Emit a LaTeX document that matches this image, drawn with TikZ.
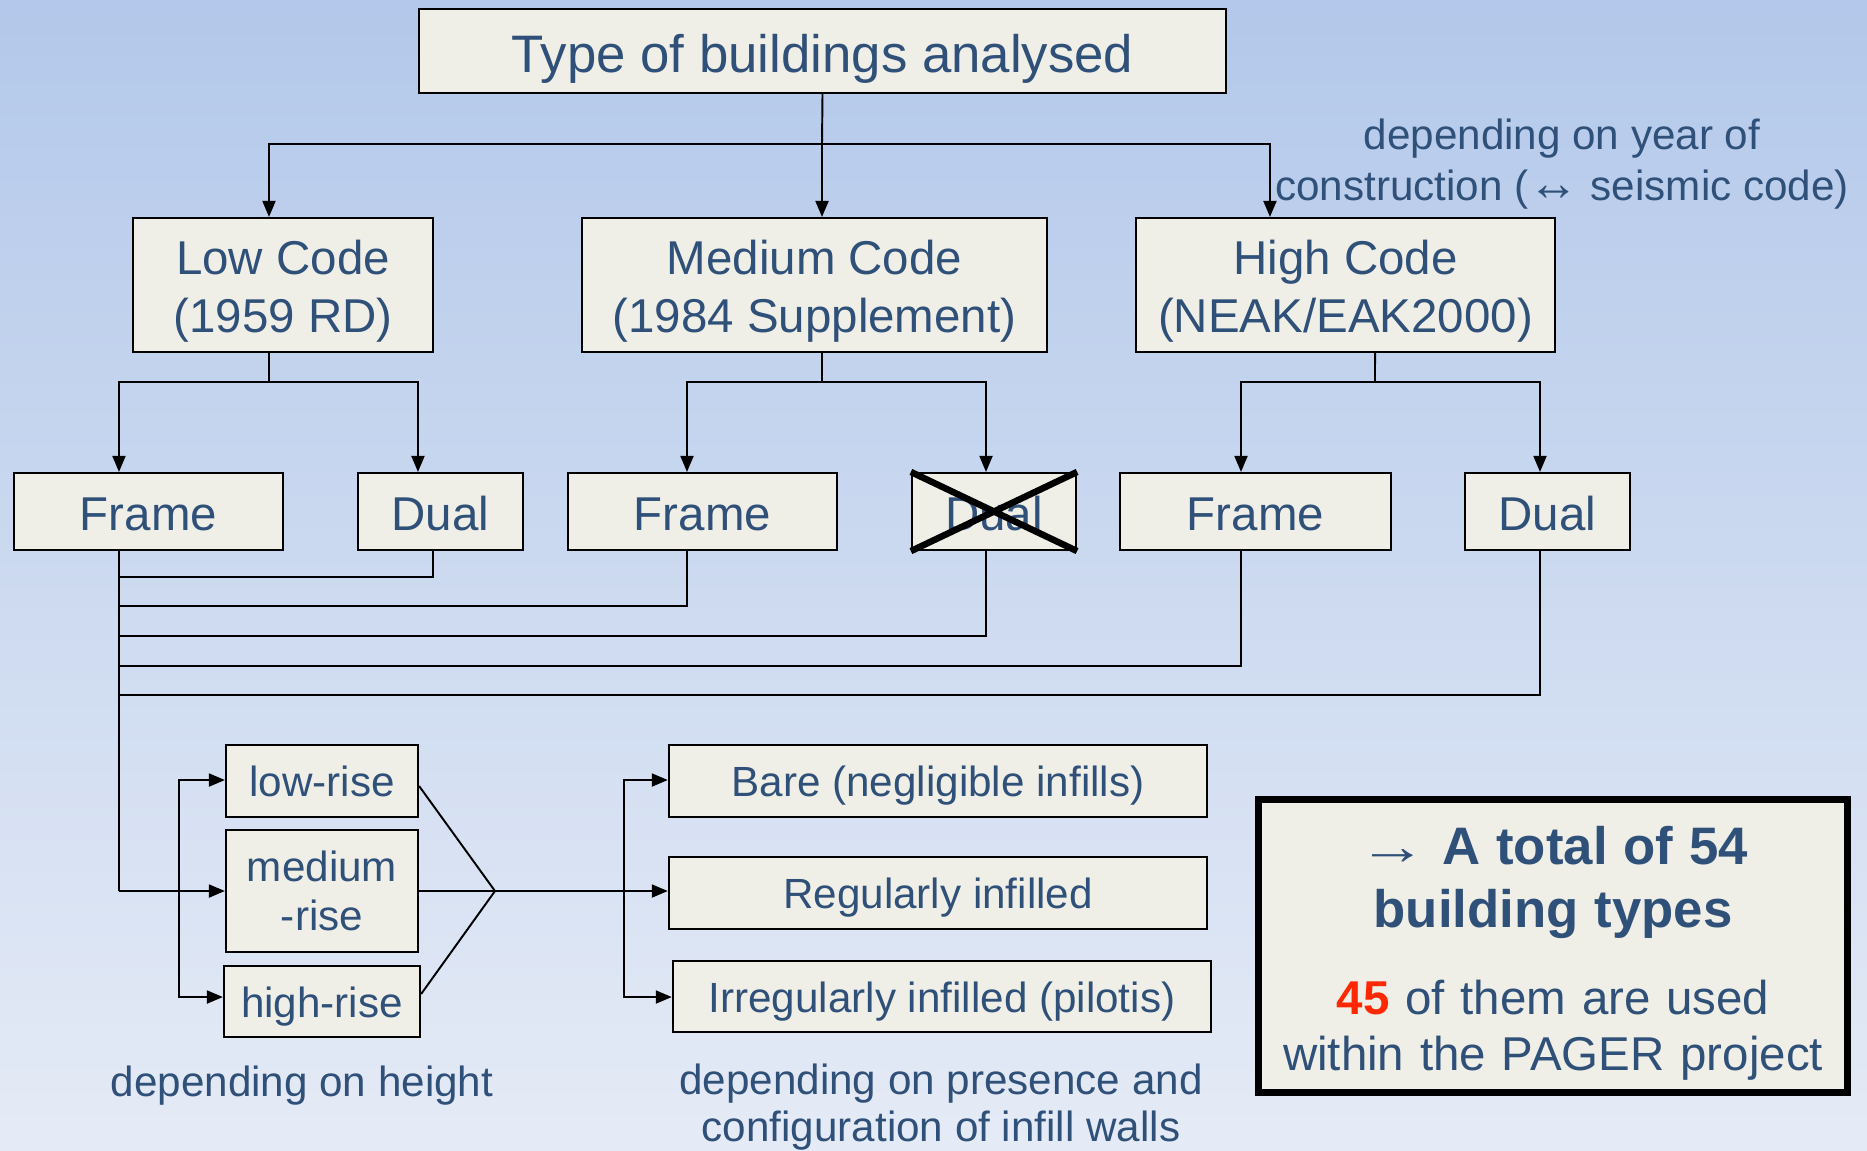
\documentclass[tikz,border=0pt]{standalone}
\usepackage{fontspec}
\usepackage{graphicx}
\setmainfont{Liberation Sans}
\usetikzlibrary{arrows.meta,calc}
\definecolor{txtblue}{RGB}{47,80,120}
\definecolor{boxfill}{RGB}{240,239,231}
\definecolor{bgtop}{RGB}{179,200,234}
\definecolor{bgbot}{RGB}{229,235,246}
\definecolor{numred}{RGB}{255,40,0}
\newcommand{\codetop}{\rule{0pt}{13.3pt}} % pushes the two code lines down

\begin{document}
\begin{tikzpicture}[x=0.01cm, y=-0.01cm,
  box/.style={draw=black, line width=0.6pt, fill=boxfill, text=txtblue, inner sep=0pt},
  codebox/.style={box, minimum height=1.34cm, align=center, font=\fontsize{13.5}{16.7}\selectfont},
  kindbox/.style={box, minimum height=0.77cm, text height=10.8pt, text depth=0pt, font=\fontsize{13.5}{16.5}\selectfont},
  smallbox/.style={box, minimum height=0.72cm, text height=9pt, text depth=0pt, font=\fontsize{12}{13.9}\selectfont},
  arr/.style={-{Triangle[length=0.16cm,width=0.13cm]}, line width=0.55pt},
  link/.style={line width=0.55pt},
  note/.style={text=txtblue, align=center, font=\fontsize{12}{14.5}\selectfont}]

% background
\useasboundingbox (0,0) rectangle (1867,1150);
\shade[top color=bgtop, bottom color=bgbot] (0,0) rectangle (1867,1150);

% top box
\node[box, minimum width=8.07cm, minimum height=0.84cm, text height=12pt, text depth=0pt,
      font=\fontsize{15}{18}\selectfont] (types) at (822.5,51) {Type of buildings analysed};

% seismic codes
\node[codebox, minimum width=3.00cm] (low)  at (283,285)    {\codetop Low Code\\(1959 RD)};
\node[codebox, minimum width=4.65cm] (med)  at (814.5,285)  {\codetop Medium Code\\(1984 Supplement)};
\node[codebox, minimum width=4.19cm] (high) at (1345.5,285) {\codetop High Code\\(NEAK/EAK2000)};

% structural systems
\node[kindbox, minimum width=2.69cm] (frameA) at (148.5,511.5)  {Frame};
\node[kindbox, minimum width=1.65cm] (dualA)  at (440.5,511.5)  {Dual};
\node[kindbox, minimum width=2.69cm] (frameB) at (702.5,511.5)  {Frame};
\node[kindbox, minimum width=1.64cm] (dualB)  at (994,511.5)    {Dual};
\node[kindbox, minimum width=2.71cm] (frameC) at (1255.5,511.5) {Frame};
\node[kindbox, minimum width=1.65cm] (dualC)  at (1547.5,511.5) {Dual};

% crossed out
\draw[line width=0.065cm] (dualB.north west) -- (dualB.south east)
                          (dualB.south west) -- (dualB.north east);

% height classes
\node[smallbox, minimum width=1.92cm] (lowR)  at (322,781) {low-rise};
\node[box, minimum width=1.92cm, minimum height=1.22cm, align=center,
      font=\fontsize{12}{13.9}\selectfont] (midR) at (322,891) {medium\\-rise};
\node[smallbox, minimum width=1.96cm, minimum height=0.71cm] (highR) at (322,1001.5) {high-rise};

% infill classes
\node[smallbox, minimum width=5.38cm] (bare) at (938,781) {Bare (negligible infills)};
\node[smallbox, minimum width=5.38cm] (reg)  at (938,893) {Regularly infilled};
\node[smallbox, minimum width=5.38cm, minimum height=0.71cm] (irr) at (942,996.5) {Irregularly infilled (pilotis)};

% result
\node[box, line width=0.07cm, minimum width=5.88cm, minimum height=2.92cm, text width=5.6cm, align=center,
      font=\fontsize{13.5}{16}\selectfont] (total) at (1553,946)
  {{\fontsize{15}{18}\selectfont\bfseries\rule{0pt}{15pt}{\mdseries\scalebox{1.3}[1]{→}} A total of 54\\building types\par}\vspace{0.3cm}%
   {\bfseries\color{numred}45} of them are used\\within the PAGER project};

% notes
\node[note] (yearnote) at (1562,164) {depending on year of\\construction (\scalebox{1.2}{↔} seismic code)};
\node[note] (hgtnote)  at (302,1086) {depending on height};
\node[note, font=\fontsize{12}{13.6}\selectfont] (infnote) at (941,1107) {depending on presence and\\configuration of infill walls};

% first split
\coordinate (busA) at (822,144);
\draw[link] (types.south) -- (busA);
\draw[arr] (busA) -| ([xshift=-0.14cm]low.north);
\draw[arr] (busA) -- (med.north -| busA);
\draw[arr] (busA) -| ([xshift=-0.755cm]high.north);

% second split
\coordinate (busL) at (269,382);
\coordinate (busM) at (822,382);
\coordinate (busH) at (1375,382);
\draw[link] ([xshift=-0.14cm]low.south) -- (busL);
\draw[link] ([xshift=0.075cm]med.south) -- (busM);
\draw[link] ([xshift=0.295cm]high.south) -- (busH);
\draw[arr] (busL) -| ([xshift=-0.295cm]frameA.north);
\draw[arr] (busL) -| ([xshift=-0.225cm]dualA.north);
\draw[arr] (busM) -| ([xshift=-0.155cm]frameB.north);
\draw[arr] (busM) -| ([xshift=-0.08cm]dualB.north);
\draw[arr] (busH) -| ([xshift=-0.145cm]frameC.north);
\draw[arr] (busH) -| ([xshift=-0.075cm]dualC.north);

% collecting lines
\foreach \y [count=\i] in {577,606,636,666,695}
  \coordinate (trunk\i) at (119,\y);
\coordinate (hub) at (119,891);
\draw[link] ([xshift=-0.295cm]frameA.south) -- (hub);
\draw[link] ([xshift=-0.075cm]dualA.south) |- (trunk1);
\draw[link] ([xshift=-0.155cm]frameB.south) |- (trunk2);
\draw[link] ([xshift=-0.08cm]dualB.south) |- (trunk3);
\draw[link] ([xshift=-0.145cm]frameC.south) |- (trunk4);
\draw[link] ([xshift=-0.075cm]dualC.south) |- (trunk5);

% heights
\coordinate (hgtL) at (179,891);
\draw[arr] (hub) -- (midR.west);
\draw[arr] (hgtL) |- ([yshift=0.01cm]lowR.west);
\draw[arr] (hgtL) |- ([yshift=0.045cm]highR.west);

% infills
\coordinate (meet) at (495,891);
\coordinate (infL) at (624,891);
\draw[link] ([yshift=-0.05cm]lowR.east) -- (meet);
\draw[link] ([yshift=0.075cm]highR.east) -- (meet);
\draw[link] (midR.east) -- (meet);
\draw[arr] (meet) -- (reg.west |- meet);
\draw[arr] (infL) |- ([yshift=0.01cm]bare.west);
\draw[arr] (infL) |- ([yshift=-0.005cm]irr.west);
\end{tikzpicture}
\end{document}
